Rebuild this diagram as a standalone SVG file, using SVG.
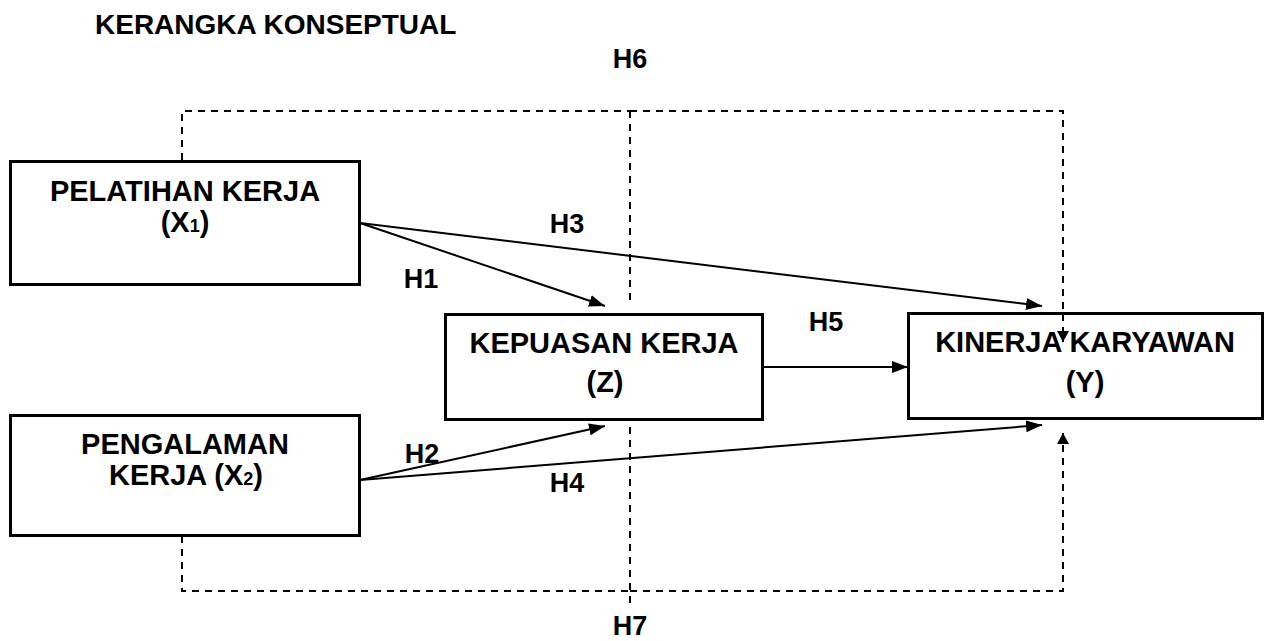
<svg xmlns="http://www.w3.org/2000/svg" width="1266" height="641" viewBox="0 0 1266 641">
<style>
.box{fill:#fff;stroke:#000;stroke-width:3}
.t{font-family:"Liberation Sans",Arial,sans-serif;font-weight:bold;font-size:29px;fill:#000;text-anchor:middle}
.h{font-size:27px}
.sub{font-size:18px}
.ln{fill:none;stroke:#000;stroke-width:2}
.ds{fill:none;stroke:#000;stroke-width:2;stroke-dasharray:7 6}
</style>
<defs>
<marker id="ah" markerUnits="userSpaceOnUse" markerWidth="16" markerHeight="12" refX="16" refY="6" orient="auto">
<path d="M0,0 L16,6 L0,12 Z" fill="#000"/>
</marker>
<marker id="ahs" markerUnits="userSpaceOnUse" markerWidth="11" markerHeight="12" refX="11" refY="6" orient="auto">
<path d="M0,0 L11,6 L0,12 Z" fill="#000"/>
</marker>
</defs>
<rect width="1266" height="641" fill="#fff"/>
<text class="t" x="95" y="34" style="text-anchor:start;font-size:28px">KERANGKA KONSEPTUAL</text>
<g id="connectors">
<path class="ds" d="M182,160 V111 H630"/>
<path class="ds" d="M630,111 H1063 V313"/>
<path class="ds" d="M630,111 V302"/>
<path class="ds" d="M182,536 V591 H630"/>
<path class="ds" d="M630,591 H1063 V433" marker-end="url(#ahs)"/>
<path class="ds" d="M630,427 V604"/>
<line class="ln" x1="360" y1="223" x2="605" y2="306" marker-end="url(#ah)"/>
<line class="ln" x1="360" y1="223" x2="1042" y2="306" marker-end="url(#ah)"/>
<line class="ln" x1="763" y1="367" x2="908" y2="367" marker-end="url(#ah)"/>
<line class="ln" x1="360" y1="480" x2="605" y2="426" marker-end="url(#ah)"/>
<line class="ln" x1="360" y1="480" x2="1042" y2="425" marker-end="url(#ah)"/>
<text class="t h" x="421" y="288">H1</text>
<text class="t h" x="567" y="233">H3</text>
<text class="t h" x="826" y="331">H5</text>
<text class="t h" x="422" y="463">H2</text>
<text class="t h" x="567" y="492">H4</text>
<text class="t h" x="630" y="68">H6</text>
<text class="t h" x="630" y="635">H7</text>
</g>
<g id="node-x1">
<rect class="box" x="10.5" y="161.5" width="349" height="123"/>
<text class="t" x="185" y="201">PELATIHAN KERJA</text>
<text class="t" x="185" y="232">(X<tspan class="sub">1</tspan>)</text>
</g>
<g id="node-x2">
<rect class="box" x="10.5" y="415.5" width="349" height="120"/>
<text class="t" x="185" y="454">PENGALAMAN</text>
<text class="t" x="186" y="485">KERJA (X<tspan class="sub">2</tspan>)</text>
</g>
<g id="node-z">
<rect class="box" x="445.5" y="314.5" width="317" height="105"/>
<text class="t" x="604" y="353">KEPUASAN KERJA</text>
<text class="t" x="605" y="392">(Z)</text>
</g>
<g id="node-y">
<rect class="box" x="908.5" y="313.5" width="354" height="105"/>
<text class="t" x="1085" y="352">KINERJA KARYAWAN</text>
<text class="t" x="1085" y="392">(Y)</text>
</g>
<path class="ds" d="M1063,314 V342" marker-end="url(#ahs)"/>
</svg>
